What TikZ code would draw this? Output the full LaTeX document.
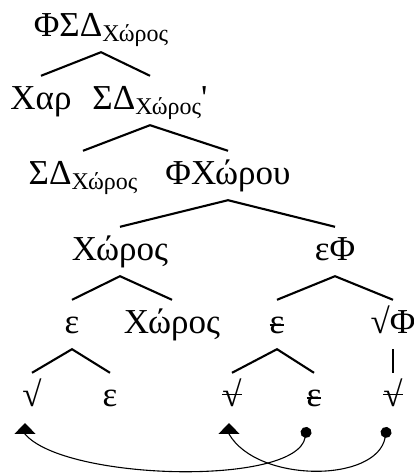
\documentclass[tikz,border=0pt]{standalone}
\usepackage{fontspec}
\setmainfont{Liberation Serif}
\usetikzlibrary{positioning, arrows.meta, calc}

% subscript and struck-out copies
\newcommand\sub[1]{\raisebox{-5pt}{\fontsize{24}{24}\selectfont #1}}
\newsavebox\strikebox
\newcommand\struck[2][0.24em]{\sbox\strikebox{#2}\rlap{\usebox\strikebox}\rule[#1]{\wd\strikebox}{0.045em}}

\begin{document}
\begin{tikzpicture}[
    x=1pt, y=1pt,
    % tree labels, all with the same height so the branches line up
    lbl/.style={anchor=base, inner sep=0pt, text height=34pt, text depth=15pt,
        font=\fontsize{35}{40}\selectfont},
    branch/.style={line width=2.1pt},
    movearrow/.style={line width=1.1pt, {Circle[length=11pt]}-{Triangle[width=21pt, length=11pt]}},
]
\useasboundingbox (0,0) rectangle (414,473);

% --- Row 1 ---
\node[lbl] (top) at (101,436) {ΦΣΔ\sub{Χώρος}};

% --- Row 2 ---
\node[lbl] (char) at (41,363) {Χαρ};
\node[lbl] (sdp) at (150,363) {ΣΔ\sub{Χώρος}\textquotesingle};

% --- Row 3 ---
\node[lbl] (sd) at (83,288) {ΣΔ\sub{Χώρος}};
\node[lbl] (fx) at (228,288) {ΦΧώρου};

% --- Row 4 ---
\node[lbl] (xoros) at (120,212) {Χώρος};
\node[lbl] (ef) at (335,212) {εΦ};

% --- Row 5 ---
\node[lbl] (eps1) at (72,139) {ε};
\node[lbl] (xoros2) at (172,139) {Χώρος};
\node[lbl] (eps2) at (277,139) {\struck{ε}};
\node[lbl] (rf) at (393,139) {√Φ};

% --- Row 6 ---
\node[lbl] (r1) at (32,66) {√};
\node[lbl] (eps3) at (110,66) {ε};
\node[lbl] (r2) at (232,66) {\struck[0.33em]{√}};
\node[lbl] (eps4) at (314,66) {\struck{ε}};
\node[lbl] (r3) at (393,66) {\struck[0.33em]{√}};

% branches
\draw[branch] (char.north) -- (top.south) -- (sdp.north);
\draw[branch] (sd.north) -- (sdp.south) -- (fx.north);
\draw[branch] (xoros.north) -- (fx.south) -- (ef.north);
\draw[branch] (eps1.north) -- (xoros.south) -- (xoros2.north);
\draw[branch] (eps2.north) -- (ef.south) -- (rf.north);
\draw[branch] (r1.north) -- (eps1.south) -- (eps3.north);
\draw[branch] (r2.north) -- (eps2.south) -- (eps4.north);
\draw[branch] (rf.south) -- (r3.north);

% movement arrows (dot at the lower copy, head under the root)
\coordinate (from1) at ($(eps4.base)+(-7,-20)$);
\coordinate (to1) at ($(r1.base)+(-7,-16)$);
\coordinate (to1b) at ($(to1)+(0,-11)$);
\coordinate (from2) at ($(r3.base)+(-6,-20)$);
\coordinate (to2) at ($(r2.base)+(-3,-16)$);
\coordinate (to2b) at ($(to2)+(0,-11)$);

\draw[movearrow] (from1) to[out=-100, in=-50, looseness=0.55] (to1b) -- (to1);
\draw[movearrow] (from2) to[out=-100, in=-60, looseness=0.92] (to2b) -- (to2);

\end{tikzpicture}
\end{document}
